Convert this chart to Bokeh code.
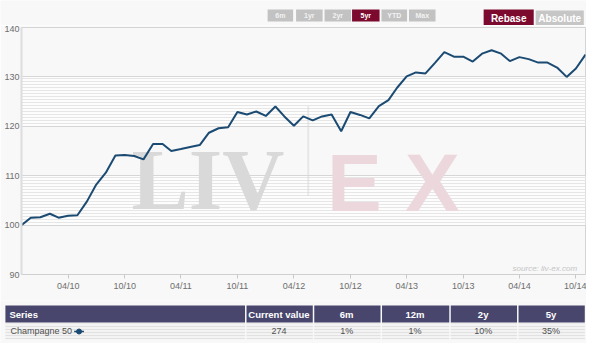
import pandas as pd
from datetime import datetime
from bokeh.plotting import figure
from bokeh.layouts import column, row
from bokeh.models import Range1d, FixedTicker, DatetimeTickFormatter
from bokeh.core.properties import value
from bokeh.embed import file_html
from bokeh.resources import INLINE

# ---------------- data ----------------
start_month = "2009-11-01"
index_values = [
    100.0, 101.5, 101.6, 102.3, 101.5, 101.9, 102.0, 104.8, 108.2, 110.6,
    114.1, 114.2, 114.0, 113.3, 116.4, 116.4, 115.0, 115.4, 115.8, 116.2,
    118.7, 119.6, 119.8, 122.9, 122.4, 123.0, 122.1, 124.0, 122.0, 120.1,
    122.0, 121.2, 122.0, 122.4, 119.0, 122.9, 122.3, 121.6, 124.1, 125.3,
    127.8, 130.1, 130.9, 130.7, 132.8, 135.0, 134.1, 134.1, 133.1, 134.7,
    135.4, 134.7, 133.2, 134.0, 133.6, 132.9, 132.9, 131.9, 130.0, 131.7,
    134.5,
]
months = pd.date_range(start_month, periods=len(index_values), freq="MS")
x_tick_labels = ["04/10", "10/10", "04/11", "10/11", "04/12", "10/12",
                 "04/13", "10/13", "04/14", "10/14"]
y_ticks = [90, 100, 110, 120, 130, 140]
grid_ticks = [80] + y_ticks  # extra tick below range so bands fall on 90-100, 110-120, 130-140

period_buttons = ["6m", "1yr", "2yr", "5yr", "YTD", "Max"]
active_period = "5yr"
mode_buttons = ["Rebase", "Absolute"]
active_mode = "Rebase"

table_headers = ["Series", "Current value", "6m", "12m", "2y", "5y"]
table_row = ["Champagne 50", "274", "1%", "1%", "10%", "35%"]

# ---------------- styling ----------------
W = 586
BG = "#f8f8f8"
LINE = "#1b4a72"
MAROON = "#7c0a2f"
GREY_BTN = "#c2c2c2"
FONT = "Liberation Sans"


def fx(rx):
    # layout helper: reference-pixel to figure-pixel
    return rx * 0.982


def xm(i):
    return months[0] + (months[-1] - months[0]) * (i / (len(months) - 1))


def blank_fig(h):
    f = figure(width=W, height=h, output_backend="svg", toolbar_location=None,
               title=None, x_axis_location=None, y_axis_location=None,
               x_range=Range1d(0, W), y_range=Range1d(h, 0),
               min_border=0, min_border_left=0, min_border_right=0,
               min_border_top=0, min_border_bottom=0)
    f.outline_line_color = None
    f.background_fill_color = BG
    f.border_fill_color = BG
    f.grid.visible = False
    return f


# ---------------- buttons row ----------------
top = blank_fig(25)
small_edges = [(272, 298), (301, 328), (330, 357), (358, 386), (388, 414), (416, 443)]
for (a, b), lab in zip(small_edges, period_buttons):
    col = MAROON if lab == active_period else GREY_BTN
    top.quad(left=fx(a), right=fx(b), top=9, bottom=21, fill_color=col, line_color=None)
    top.text(x=[(fx(a) + fx(b)) / 2], y=[15.3], text=[lab], text_align="center",
             text_baseline="middle", text_color="#ffffff" if lab == active_period else "#f2f2f2",
             text_font=value(FONT), text_font_style="bold", text_font_size="7px")
mode_edges = [(492, 543), (545, 594)]
for (a, b), lab in zip(mode_edges, mode_buttons):
    col = MAROON if lab == active_mode else "#c6c6c6"
    top.quad(left=fx(a), right=fx(b), top=9 if lab == active_mode else 10, bottom=25,
             fill_color=col, line_color=None)
    top.text(x=[(fx(a) + fx(b)) / 2], y=[17.5], text=[lab], text_align="center",
             text_baseline="middle", text_color="#ffffff",
             text_font=value(FONT), text_font_style="bold", text_font_size="10px")

# ---------------- chart ----------------
p = figure(width=W, height=275, output_backend="svg", toolbar_location=None, title=None,
           x_axis_type="datetime",
           x_range=Range1d(months[0], months[-1]), y_range=Range1d(90, 140),
           min_border_left=21, min_border_right=1, min_border_top=2, min_border_bottom=26)
p.background_fill_color = BG
p.border_fill_color = BG
p.outline_line_color = "#d4d4d4"
p.xgrid.visible = False
p.ygrid.ticker = FixedTicker(ticks=grid_ticks)
p.ygrid.grid_line_color = "#d6d6d6"
p.ygrid.band_fill_color = "#fdfdfd"
p.ygrid.band_fill_alpha = 1.0
p.ygrid.band_hatch_pattern = "-"
p.ygrid.band_hatch_color = "#e6e6e6"
p.ygrid.band_hatch_scale = 3
p.ygrid.band_hatch_weight = 1

tick_dates = [datetime.strptime(t, "%m/%y") for t in x_tick_labels]
p.xaxis.ticker = FixedTicker(ticks=[pd.Timestamp(d).value / 1e6 for d in tick_dates])
fmt = "%m/%y"
p.xaxis.formatter = DatetimeTickFormatter(milliseconds=fmt, seconds=fmt, minsec=fmt, minutes=fmt,
                                          hourmin=fmt, hours=fmt, days=fmt, months=fmt, years=fmt)
p.yaxis.ticker = FixedTicker(ticks=y_ticks)
for ax in (p.xaxis, p.yaxis):
    ax.axis_line_color = "#cfcfcf"
    ax.major_label_text_font = FONT
    ax.major_label_text_font_size = "9px"
    ax.major_label_text_color = "#6e6e6e"
    ax.minor_tick_line_color = None
p.yaxis.axis_line_width = 2
p.yaxis.axis_line_color = "#dddddd"
p.yaxis.major_tick_line_color = None
p.yaxis.major_tick_out = 0
p.yaxis.major_tick_in = 0
p.yaxis.major_label_standoff = 2
p.xaxis.major_tick_line_color = "#c8c8c8"
p.xaxis.major_tick_out = 4
p.xaxis.major_tick_in = 0
p.xaxis.major_label_standoff = 2

# watermark
p.text(x=[xm(11.7)], y=[109.1], text=["LIV"], text_font=value("Liberation Serif"),
       text_font_style="bold", text_font_size="86px", text_color="#d9d9d9",
       text_baseline="alphabetic", text_align="left")
p.segment(x0=[xm(30.5)], y0=[106], x1=[xm(30.5)], y1=[124], line_color="#d6d6d6",
          line_width=2, line_dash="1 1")
p.text(x=[xm(32.5)], y=[108.7], text=["E"], text_font=value(FONT),
       text_font_style="bold", text_font_size="82px", text_color="#ecd8dc",
       text_baseline="alphabetic", text_align="left")
p.text(x=[xm(43.7)], y=[108.7], text=["X"], text_font=value(FONT),
       text_font_style="bold", text_font_size="82px", text_color="#ecd8dc",
       text_baseline="alphabetic", text_align="center")
p.text(x=[xm(59.1)], y=[91.2], text=["source: liv-ex.com"], text_font=value(FONT),
       text_font_style="italic", text_font_size="8px", text_color="#c4c4c4",
       text_baseline="alphabetic", text_align="right")

p.line(months, index_values, line_color=LINE, line_width=2)

# ---------------- table ----------------
tbl = blank_fig(43)
borders = [5, 249, 318, 387, 457, 526, 595]
hdr_top, hdr_bot, row_bot = 5, 22, 39
for k, (h, v) in enumerate(zip(table_headers, table_row)):
    a, b = fx(borders[k]), fx(borders[k + 1])
    gap = 0 if k == 0 else 1.5
    tbl.quad(left=a + gap, right=b, top=hdr_top, bottom=hdr_bot, fill_color="#48466c",
             line_color=None)
    tbl.quad(left=a + gap, right=b, top=hdr_bot + 1, bottom=row_bot, fill_color="#f3f3f3",
             hatch_pattern="-", hatch_color="#e1e1e1", hatch_scale=3, hatch_weight=1,
             line_color=None)
    if k == 0:
        tbl.text(x=[a + 4], y=[13.8], text=[h], text_align="left", text_baseline="middle",
                 text_color="#ffffff", text_font=value(FONT), text_font_style="bold",
                 text_font_size="9.5px")
        tbl.text(x=[a + 5], y=[30.8], text=[v], text_align="left", text_baseline="middle",
                 text_color="#505050", text_font=value(FONT), text_font_size="9px")
        tbl.segment(x0=[fx(75)], y0=[31], x1=[fx(85)], y1=[31], line_color=LINE, line_width=1.5)
        tbl.scatter(x=[fx(80)], y=[31], size=5, fill_color=LINE, line_color=LINE)
    else:
        tbl.text(x=[(a + b) / 2], y=[13.8], text=[h], text_align="center", text_baseline="middle",
                 text_color="#ffffff", text_font=value(FONT), text_font_style="bold",
                 text_font_size="9.5px")
        tbl.text(x=[(a + b) / 2], y=[30.8], text=[v], text_align="center", text_baseline="middle",
                 text_color="#505050", text_font=value(FONT), text_font_size="9px")

layout = column(row(top), row(p), row(tbl), spacing=0)

open("out.html", "w").write(file_html(layout, INLINE))
